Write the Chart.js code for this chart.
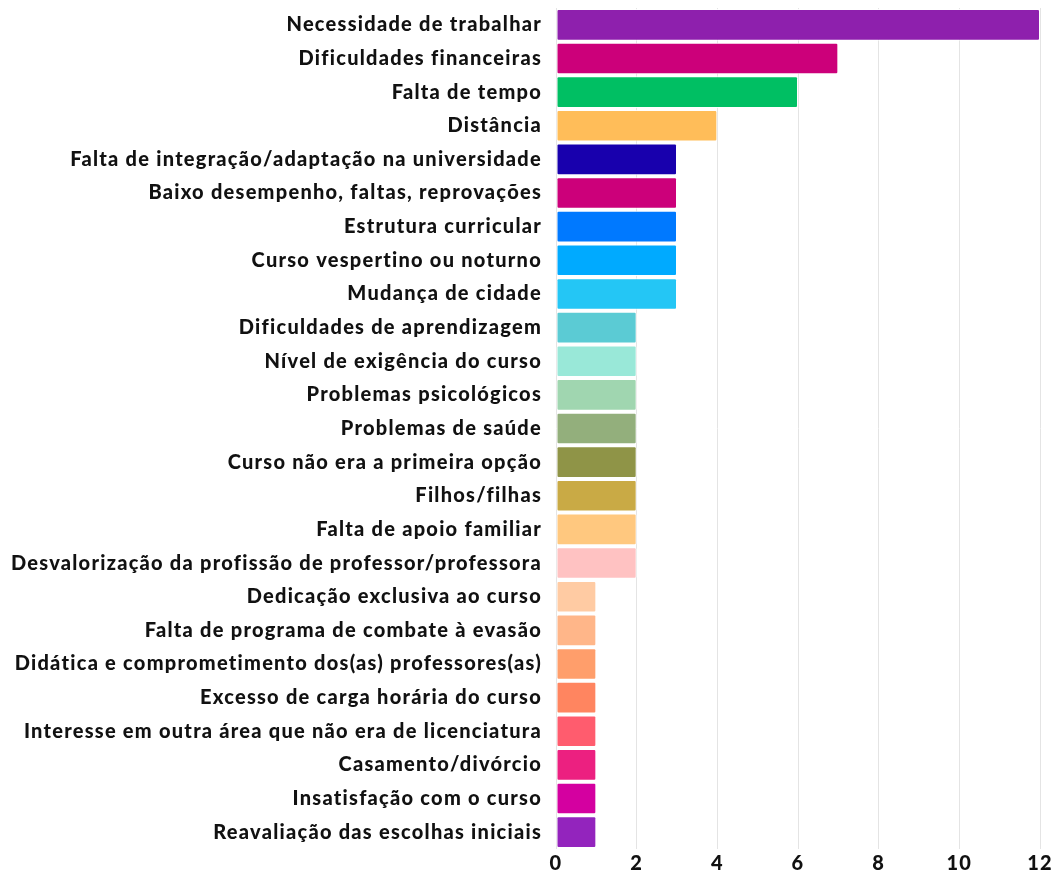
<!DOCTYPE html>
<html>
<head>
<meta charset="utf-8">
<script src="https://cdn.jsdelivr.net/npm/chart.js@4.4.1/dist/chart.umd.min.js"></script>
<style>
html,body{margin:0;padding:0;background:#fff;}
#wrap{width:1059px;height:877px;position:relative;}
</style>
</head>
<body>
<div id="wrap"><canvas id="c" width="1059" height="877"></canvas></div>
<script>
const categories = [
  "Necessidade de trabalhar",
  "Dificuldades financeiras",
  "Falta de tempo",
  "Distância",
  "Falta de integração/adaptação na universidade",
  "Baixo desempenho, faltas, reprovações",
  "Estrutura curricular",
  "Curso vespertino ou noturno",
  "Mudança de cidade",
  "Dificuldades de aprendizagem",
  "Nível de exigência do curso",
  "Problemas psicológicos",
  "Problemas de saúde",
  "Curso não era a primeira opção",
  "Filhos/filhas",
  "Falta de apoio familiar",
  "Desvalorização da profissão de professor/professora",
  "Dedicação exclusiva ao curso",
  "Falta de programa de combate à evasão",
  "Didática e comprometimento dos(as) professores(as)",
  "Excesso de carga horária do curso",
  "Interesse em outra área que não era de licenciatura",
  "Casamento/divórcio",
  "Insatisfação com o curso",
  "Reavaliação das escolhas iniciais"
];
const values = [12,7,6,4,3,3,3,3,3,2,2,2,2,2,2,2,2,1,1,1,1,1,1,1,1];
const colors = [
  "#8E20AD","#CC007A","#00BF63","#FFBD59","#1800AD","#CC007A","#0079FF","#00AAFF","#24C6F5",
  "#5BCBD4","#99E8D8","#A0D6B0","#93AF7C","#8F9447","#C9AA45","#FFC87F","#FFC2C2",
  "#FFCBA3","#FFB689","#FF9E6B","#FF8560","#FF5C6E","#EC2080","#D400A0","#9324BD"
];
const xTicks = [0,2,4,6,8,10,12];

const spacing = {
  id: 'spacing',
  beforeInit(chart) { chart.ctx.letterSpacing = '1.25px'; },
  beforeUpdate(chart) { chart.ctx.letterSpacing = '1.25px'; },
  beforeDraw(chart) { chart.ctx.letterSpacing = '1.25px'; }
};

new Chart(document.getElementById('c'), {
  type: 'bar',
  plugins: [spacing],
  data: {
    labels: categories,
    datasets: [{
      data: values,
      backgroundColor: colors,
      borderColor: 'rgba(255,255,255,0.85)',
      borderWidth: 1,
      borderRadius: 2,
      borderSkipped: false,
      barPercentage: 0.94,
      categoryPercentage: 1
    }]
  },
  options: {
    indexAxis: 'y',
    responsive: false,
    animation: false,
    layout: { padding: { top: 8, right: 19, bottom: 0, left: 0 } },
    plugins: { legend: { display: false }, tooltip: { enabled: false } },
    scales: {
      x: {
        min: 0, max: 12,
        afterBuildTicks: (s) => { s.ticks = xTicks.map(v => ({ value: v })); },
        afterFit: (s) => { s.height = 28; },
        grid: { color: '#e4e4e4', lineWidth: 1, drawTicks: false },
        border: { display: false },
        ticks: {
          color: '#111',
          font: { family: 'Lato', weight: '900', size: 20 },
          padding: 3
        }
      },
      y: {
        grid: { display: false, drawTicks: false },
        border: { display: false },
        afterFit: (s) => { s.width = 556; s.paddingTop = 0; s.paddingBottom = 0; },
        ticks: {
          color: '#111',
          autoSkip: false,
          font: { family: 'Lato', weight: '900', size: 20 },
          padding: 14
        }
      }
    }
  }
});
</script>
</body>
</html>
